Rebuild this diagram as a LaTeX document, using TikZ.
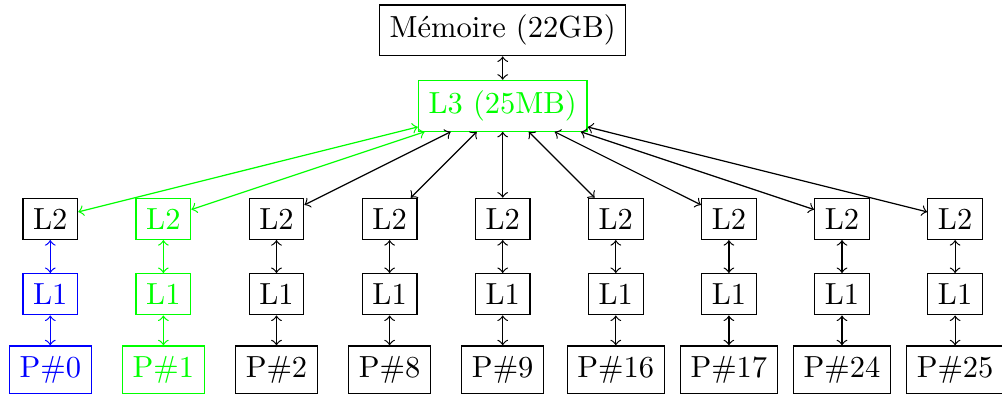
\documentclass[tikz,border=0pt]{standalone}
\usepackage{tikz}
\tikzset{cachebox/.style={draw, rectangle, inner sep=3.33pt}}
\tikzset{link/.style={<->}}

\begin{document}
\begin{tikzpicture}[x=0.869cm, y=0.869cm]
\useasboundingbox (-0.667,-0.349) rectangle (12.622,4.903);
% memory and shared cache
\node[cachebox] (mem) at (6,4.5) {Mémoire (22GB)};
\node[cachebox, green] (l3) at (6,3.5) {L3 (25MB)};
\draw[link] (mem) -- (l3);
% core 0
\node[cachebox] (l2-0) at (0,2) {L2};
\node[cachebox, blue] (l1-0) at (0,1) {L1};
\node[cachebox, blue] (p-0) at (0,0) {P$\#$0};
\draw[link, green] (l3) -- (l2-0);
\draw[link, blue] (l2-0) -- (l1-0);
\draw[link, blue] (l1-0) -- (p-0);
% core 1
\node[cachebox, green] (l2-1) at (1.5,2) {L2};
\node[cachebox, green] (l1-1) at (1.5,1) {L1};
\node[cachebox, green] (p-1) at (1.5,0) {P$\#$1};
\draw[link, green] (l3) -- (l2-1);
\draw[link, green] (l2-1) -- (l1-1);
\draw[link, green] (l1-1) -- (p-1);
% other cores
\foreach \i/\n in {2/2,3/8,4/9,5/16,6/17,7/24,8/25} {
  \node[cachebox] (l2-\i) at (1.5*\i,2) {L2};
  \node[cachebox] (l1-\i) at (1.5*\i,1) {L1};
  \node[cachebox] (p-\i) at (1.5*\i,0) {P$\#$\n};
  \draw[link] (l3) -- (l2-\i);
  \draw[link] (l2-\i) -- (l1-\i);
  \draw[link] (l1-\i) -- (p-\i);
}
\end{tikzpicture}
\end{document}
